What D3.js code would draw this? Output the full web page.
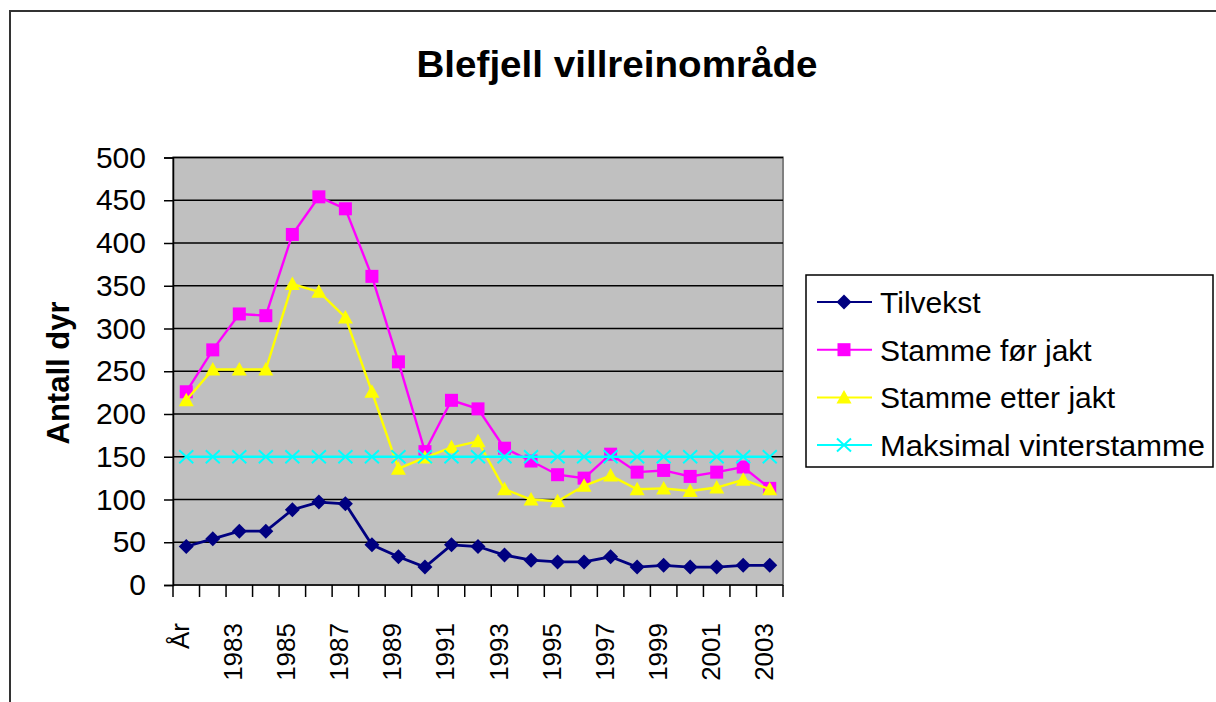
<!DOCTYPE html>
<html>
<head>
<meta charset="utf-8">
<script src="https://cdn.jsdelivr.net/npm/d3@7"></script>
<style>
  body { margin: 0; background: #fff; }
  text { font-family: "Liberation Sans", Arial, sans-serif; }
</style>
</head>
<body>
<script>
// category labels (first one is the header cell that ended up in the chart)
var categories = ["År", "1982", "1983", "1984", "1985", "1986", "1987", "1988", "1989", "1990",
  "1991", "1992", "1993", "1994", "1995", "1996", "1997", "1998", "1999", "2000",
  "2001", "2002", "2003"];

var tilvekst = [45, 54, 63, 63, 88, 97, 95, 47, 33, 21, 47, 45, 35, 29, 27, 27, 33, 21, 23, 21, 21, 23, 23];
var stammeFor = [226, 275, 317, 315, 410, 454, 440, 361, 261, 156, 216, 206, 160, 145, 129, 125, 153, 132, 134, 127, 132, 138, 113];
var stammeEtter = [216, 252, 252, 252, 352, 343, 313, 226, 136, 149, 161, 168, 112, 100, 98, 116, 128, 112, 113, 110, 114, 123, 112];
var maksVinter = [150, 150, 150, 150, 150, 150, 150, 150, 150, 150, 150, 150, 150, 150, 150, 150, 150, 150, 150, 150, 150, 150, 150];

var yTicks = [0, 50, 100, 150, 200, 250, 300, 350, 400, 450, 500];

var series = [
  { name: "Tilvekst", values: tilvekst, color: "#000080", marker: "diamond" },
  { name: "Stamme før jakt", values: stammeFor, color: "#FF00FF", marker: "square" },
  { name: "Stamme etter jakt", values: stammeEtter, color: "#FFFF00", marker: "triangle" },
  { name: "Maksimal vinterstamme", values: maksVinter, color: "#00FFFF", marker: "cross" }
];

var W = 1216, H = 702;
var plot = { left: 173, right: 783, top: 157.5, bottom: 585 };

var svg = d3.select("body").append("svg")
  .attr("width", W)
  .attr("height", H);

// outer chart frame, runs off the right and bottom edge
svg.append("rect")
  .attr("x", 10).attr("y", 11)
  .attr("width", 1260).attr("height", 760)
  .attr("fill", "#fff")
  .attr("stroke", "#333").attr("stroke-width", 2);

var x = d3.scaleBand()
  .domain(categories)
  .range([plot.left, plot.right])
  .paddingInner(0).paddingOuter(0);

var y = d3.scaleLinear()
  .domain([0, 500])
  .range([plot.bottom, plot.top]);

function cx(i) { return x(categories[i]) + x.bandwidth() / 2; }

// plot area background
svg.append("rect")
  .attr("x", plot.left).attr("y", plot.top)
  .attr("width", plot.right - plot.left).attr("height", plot.bottom - plot.top)
  .attr("fill", "#C0C0C0")
  .attr("stroke", "#808080").attr("stroke-width", 2);

// gridlines
svg.append("g")
  .selectAll("line")
  .data(yTicks.filter(function(d) { return d > 0; }))
  .enter().append("line")
  .attr("x1", plot.left).attr("x2", plot.right)
  .attr("y1", function(d) { return y(d); })
  .attr("y2", function(d) { return y(d); })
  .attr("stroke", "#000").attr("stroke-width", 1.5);

// y axis
var yAxis = svg.append("g")
  .attr("transform", "translate(" + plot.left + ",0)")
  .call(d3.axisLeft(y).tickValues(yTicks).tickSize(9).tickPadding(18));
yAxis.select(".domain").attr("stroke", "#000").attr("stroke-width", 1.5);
yAxis.selectAll(".tick line").attr("stroke", "#000").attr("stroke-width", 1.5);
yAxis.selectAll(".tick text")
  .attr("font-size", 30)
  .attr("font-family", "Liberation Sans, Arial, sans-serif")
  .attr("fill", "#000");

// x axis, ticks on category boundaries
var xAxis = svg.append("g")
  .attr("transform", "translate(0," + plot.bottom + ")");
xAxis.append("line")
  .attr("x1", plot.left).attr("x2", plot.right)
  .attr("stroke", "#000").attr("stroke-width", 1.5);
xAxis.selectAll("line.tk")
  .data(categories.concat(["end"]))
  .enter().append("line")
  .attr("class", "tk")
  .attr("x1", function(d, i) { return plot.left + i * x.bandwidth(); })
  .attr("x2", function(d, i) { return plot.left + i * x.bandwidth(); })
  .attr("y1", 0).attr("y2", 12)
  .attr("stroke", "#000").attr("stroke-width", 1.5);

// every other category label, rotated
svg.append("g")
  .selectAll("text")
  .data(categories.filter(function(d, i) { return i % 2 === 0; }))
  .enter().append("text")
  .attr("transform", function(d) {
    return "translate(" + (x(d) + x.bandwidth() / 2 + 3) + ",623) rotate(-90)";
  })
  .attr("text-anchor", "end")
  .attr("font-size", 26)
  .attr("fill", "#000")
  .text(function(d) { return d; });

// y axis title
svg.append("text")
  .attr("transform", "translate(69,373) rotate(-90)")
  .attr("text-anchor", "middle")
  .attr("font-size", 31)
  .attr("font-weight", "bold")
  .text("Antall dyr");

// chart title
svg.append("text")
  .attr("x", 617).attr("y", 77)
  .attr("text-anchor", "middle")
  .attr("font-size", 37)
  .attr("font-weight", "bold")
  .attr("textLength", 401)
  .attr("lengthAdjust", "spacingAndGlyphs")
  .text("Blefjell villreinområde");

// marker drawing
function drawMarker(g, type, color, px, py) {
  if (type === "diamond") {
    g.append("path")
      .attr("d", "M" + px + "," + (py - 7.5) + "L" + (px + 7.5) + "," + py + "L" + px + "," + (py + 7.5) + "L" + (px - 7.5) + "," + py + "Z")
      .attr("fill", color);
  } else if (type === "square") {
    g.append("rect")
      .attr("x", px - 6.5).attr("y", py - 6.5)
      .attr("width", 13).attr("height", 13)
      .attr("fill", color);
  } else if (type === "triangle") {
    g.append("path")
      .attr("d", "M" + px + "," + (py - 7.5) + "L" + (px + 7.5) + "," + (py + 6) + "L" + (px - 7.5) + "," + (py + 6) + "Z")
      .attr("fill", color);
  } else {
    g.append("path")
      .attr("d", "M" + (px - 7) + "," + (py - 6.5) + "L" + (px + 7) + "," + (py + 6.5) + "M" + (px + 7) + "," + (py - 6.5) + "L" + (px - 7) + "," + (py + 6.5))
      .attr("stroke", color).attr("stroke-width", 2).attr("fill", "none");
  }
}

var line = d3.line()
  .x(function(d, i) { return cx(i); })
  .y(function(d) { return y(d); });

// series in order, later ones drawn on top
series.forEach(function(s) {
  var g = svg.append("g");
  g.append("path")
    .attr("d", line(s.values))
    .attr("fill", "none")
    .attr("stroke", s.color)
    .attr("stroke-width", s.marker === "diamond" ? 2.8 : 2.4);
  s.values.forEach(function(v, i) {
    drawMarker(g, s.marker, s.color, cx(i), y(v));
  });
});

// legend
var legend = svg.append("g");
legend.append("rect")
  .attr("x", 806).attr("y", 275)
  .attr("width", 407).attr("height", 192)
  .attr("fill", "#fff")
  .attr("stroke", "#000").attr("stroke-width", 1.5);

series.forEach(function(s, i) {
  var ly = 302 + i * 47.7;
  legend.append("line")
    .attr("x1", 817).attr("x2", 872)
    .attr("y1", ly).attr("y2", ly)
    .attr("stroke", s.color).attr("stroke-width", 2);
  drawMarker(legend, s.marker, s.color, 844, ly);
  legend.append("text")
    .attr("x", 880).attr("y", ly)
    .attr("dy", "0.36em")
    .attr("font-size", 30)
    .attr("fill", "#000")
    .attr("textLength", s.name === "Maksimal vinterstamme" ? 325 : null)
    .attr("lengthAdjust", "spacingAndGlyphs")
    .text(s.name);
});
</script>
</body>
</html>
